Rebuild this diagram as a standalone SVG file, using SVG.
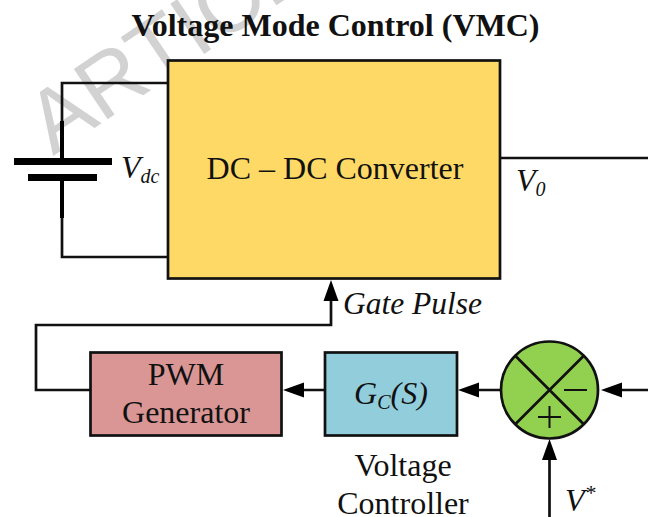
<svg xmlns="http://www.w3.org/2000/svg" width="648" height="517" viewBox="0 0 648 517">
<style>
text{font-family:"Liberation Serif","Times New Roman",serif;fill:#111}
.t{font-size:32px}
.i{font-style:italic}
.w{fill:none;stroke:#111;stroke-width:2.7}
.b{stroke:#111;stroke-width:2.7}
.a{fill:#000;stroke:none}
</style>
<rect width="648" height="517" fill="#fff"/>
<text id="watermark" transform="translate(53 156) rotate(-34)" style="font-family:'Liberation Sans',sans-serif;fill:#d2d2d2" font-size="88">ARTICLE</text>
<text id="title" x="335.500" y="36" text-anchor="middle" font-size="32" font-weight="bold">Voltage Mode Control (VMC)</text>
<g id="connectors">
<path class="w" d="M168 83H62V121M62 218V257H168"/>
<path d="M62 121V158M62 181V218" fill="none" stroke="#000" stroke-width="4"/>
<path class="w" d="M500 158H648"/>
<path class="w" d="M90 390H36V325H331V296"/>
<path class="w" d="M325 390H300M500 390H475M648 390H620M549.500 517V458"/>
<path class="a" d="M331 280l7.500 21h-15zM283 390l21-7.500v15zM458 390l21-7.500v15zM601 390l21-7.500v15zM549.500 439l7.500 21h-15z"/>
</g>
<g id="battery">
<rect x="14" y="158" width="98" height="7" fill="#000"/>
<rect x="28" y="174" width="69" height="7" fill="#000"/>
</g>
<text id="vdc-label" x="121" y="178" class="t i">V<tspan font-size="20" dy="5">dc</tspan></text>
<g id="converter">
<rect class="b" x="168" y="60.500" width="332" height="218" fill="#FFD966"/>
<text x="335" y="179" text-anchor="middle" class="t">DC – DC Converter</text>
</g>
<text id="v0-label" x="516" y="191" class="t i">V<tspan font-size="20" dy="5">0</tspan></text>
<text id="gate-label" x="343" y="314" class="i" font-size="31.500">Gate Pulse</text>
<g id="pwm">
<rect class="b" x="90.500" y="352.500" width="191" height="83" fill="#D99694"/>
<text x="186" y="385" text-anchor="middle" class="t">PWM</text>
<text x="186" y="423" text-anchor="middle" class="t">Generator</text>
</g>
<g id="controller">
<rect class="b" x="325" y="352.500" width="132" height="83" fill="#92CDDC"/>
<text x="391" y="404" text-anchor="middle" class="t i">G<tspan font-size="20" dy="5">C</tspan><tspan dy="-5">(S)</tspan></text>
</g>
<text id="controller-label" text-anchor="middle" class="t"><tspan x="403" y="476">Voltage</tspan><tspan x="403" y="514">Controller</tspan></text>
<g id="summer">
<circle class="b" cx="549.500" cy="390" r="48.500" fill="#92D050"/>
<path class="w" d="M515 355.500L584 424.500M584 355.500L515 424.500"/>
<path d="M564 390H587M549.500 406V428M538 417H561" fill="none" stroke="#111" stroke-width="2"/>
</g>
<text id="vstar-label" x="565" y="511" class="t i">V<tspan font-size="22" dy="-11">*</tspan></text>
</svg>
